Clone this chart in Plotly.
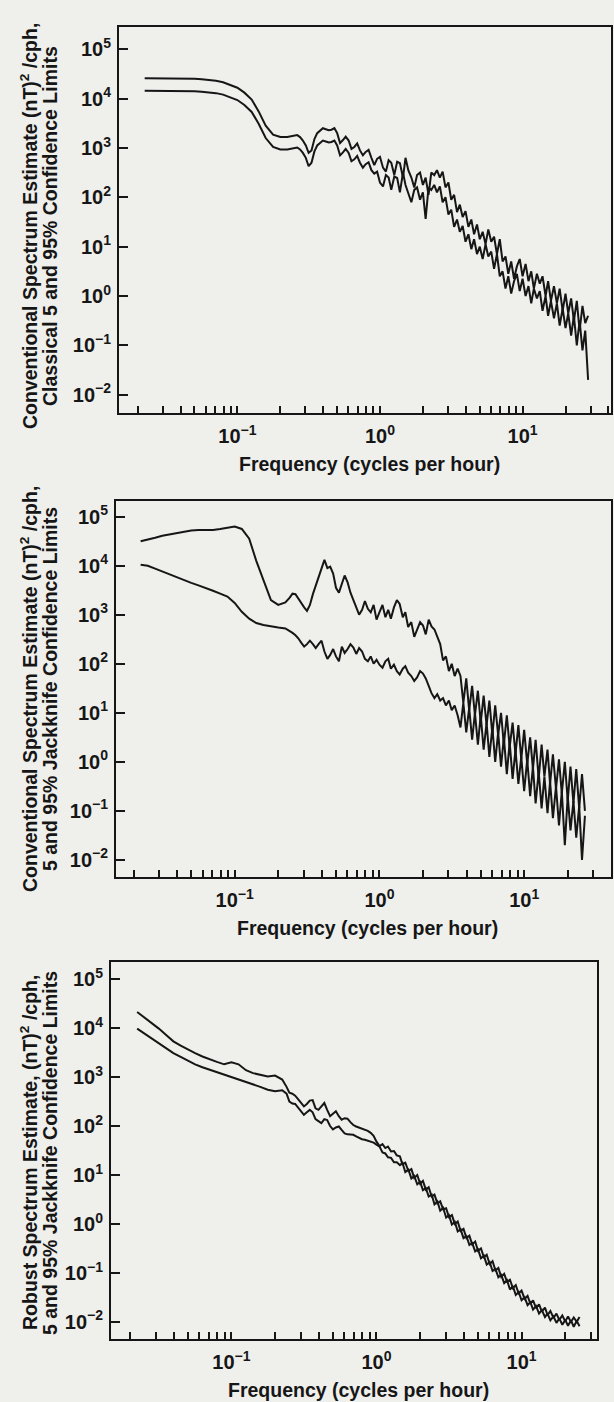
import plotly.graph_objects as go

# ---------------- data (spectra, stored as log10 of (nT)^2/cph) -------------
freq_cph = [
    0.0224, 0.0251, 0.0282, 0.0316, 0.0355, 0.0398, 0.0447, 0.0501, 0.0562, 0.0631,
    0.0708, 0.0794, 0.0891, 0.100, 0.112, 0.126, 0.141, 0.158, 0.178, 0.200,
    0.224, 0.240, 0.251, 0.263, 0.275, 0.288, 0.302, 0.316, 0.331, 0.347,
    0.363, 0.380, 0.398, 0.417, 0.437, 0.457, 0.479, 0.501, 0.525, 0.550,
    0.575, 0.603, 0.631, 0.661, 0.692, 0.724, 0.759, 0.794, 0.832, 0.871,
    0.912, 0.955, 1.00, 1.05, 1.10, 1.15, 1.20, 1.26, 1.32, 1.38,
    1.45, 1.51, 1.58, 1.66, 1.74, 1.82, 1.91, 2.00, 2.09, 2.19,
    2.29, 2.40, 2.51, 2.63, 2.75, 2.88, 3.02, 3.16, 3.31, 3.47,
    3.63, 3.80, 3.98, 4.17, 4.37, 4.57, 4.79, 5.01, 5.25, 5.50,
    5.75, 6.03, 6.31, 6.61, 6.92, 7.24, 7.59, 7.94, 8.32, 8.71,
    9.12, 9.55, 10.0, 10.5, 11.0, 11.5, 12.0, 12.6, 13.2, 13.8,
    14.5, 15.1, 15.8, 16.6, 17.4, 18.2, 19.1, 20.0, 20.9, 21.9,
    22.9, 24.0, 25.1, 26.3, 27.5, 28.8,
]

# Panel 1: conventional spectrum, classical 5% / 95% limits
conv_classical_upper_log10 = [
    4.41, 4.41, 4.41, 4.41, 4.41, 4.41, 4.40, 4.40, 4.39, 4.38,
    4.36, 4.33, 4.28, 4.22, 4.12, 3.98, 3.74, 3.45, 3.27, 3.22,
    3.22, 3.24, 3.26, 3.26, 3.22, 3.15, 3.05, 2.90, 2.95, 3.18,
    3.30, 3.36, 3.40, 3.38, 3.36, 3.37, 3.40, 3.30, 3.10, 3.16,
    3.23, 3.15, 2.98, 3.02, 3.09, 2.95, 2.85, 2.92, 2.96, 2.80,
    2.65, 2.78, 2.82, 2.60, 2.52, 2.75, 2.70, 2.45, 2.72, 2.69,
    2.40, 2.80, 2.55, 2.40, 2.20, 2.45, 2.50, 2.25, 2.40, 2.05,
    2.50, 2.45, 2.55, 2.40, 2.52, 2.20, 2.30, 1.95, 2.05, 1.70,
    1.85, 1.60, 1.72, 1.40, 1.55, 1.25, 1.45, 1.15, 1.30, 1.05,
    1.35, 1.10, 1.20, 0.85, 1.15, 0.70, 0.80, 0.45, 0.70, 0.35,
    0.60, 0.75, 0.40, 0.65, 0.30, 0.50, 0.15, 0.45, 0.25, 0.40,
    0.00, 0.30, -0.10, 0.20, -0.15, 0.15, -0.30, 0.05, -0.35, -0.05,
    -0.50, -0.10, -0.70, -0.20, -0.55, -0.40,
]
conv_classical_lower_log10 = [
    4.16, 4.16, 4.16, 4.16, 4.16, 4.16, 4.15, 4.15, 4.14, 4.13,
    4.11, 4.08, 4.03, 3.97, 3.87, 3.73, 3.49, 3.20, 3.02, 2.97,
    2.97, 2.99, 3.01, 3.01, 2.97, 2.90, 2.80, 2.63, 2.70, 2.93,
    3.05, 3.11, 3.15, 3.13, 3.11, 3.12, 3.15, 3.05, 2.85, 2.91,
    2.98, 2.90, 2.73, 2.77, 2.84, 2.70, 2.60, 2.67, 2.71, 2.55,
    2.48, 2.52, 2.30, 2.22, 2.45, 2.40, 2.15, 2.42, 2.39, 2.10,
    2.50, 2.25, 2.10, 1.90, 2.15, 2.20, 1.95, 2.10, 1.56, 2.20,
    2.15, 2.25, 2.10, 2.22, 1.90, 2.00, 1.65, 1.75, 1.40, 1.55,
    1.30, 1.42, 1.10, 1.25, 0.95, 1.15, 0.85, 1.00, 0.75, 1.05,
    0.80, 0.90, 0.55, 0.85, 0.40, 0.50, 0.15, 0.40, 0.05, 0.30,
    0.45, 0.10, 0.35, 0.00, 0.20, -0.15, 0.15, -0.05, 0.10, -0.30,
    0.00, -0.40, -0.10, -0.45, -0.15, -0.60, -0.25, -0.65, -0.35, -0.80,
    -0.40, -1.00, -0.50, -1.10, -0.70, -1.70,
]

# Panel 2: conventional spectrum, jackknife 5% / 95% limits
conv_jackknife_upper_log10 = [
    4.50, 4.53, 4.57, 4.61, 4.64, 4.66, 4.69, 4.72, 4.73, 4.73,
    4.73, 4.75, 4.78, 4.80, 4.75, 4.55, 4.10, 3.70, 3.30, 3.20,
    3.25, 3.35, 3.43, 3.42, 3.33, 3.25, 3.15, 3.08, 3.20, 3.42,
    3.60, 3.78, 3.92, 4.12, 3.95, 3.98, 3.84, 3.55, 3.45, 3.62,
    3.80, 3.66, 3.45, 3.30, 3.16, 3.00, 3.10, 3.28, 3.12, 3.05,
    3.20, 2.90, 3.05, 3.20, 2.95, 3.10, 2.92, 3.15, 3.30, 3.22,
    2.95, 3.05, 2.75, 2.85, 2.55, 2.70, 2.85, 2.78, 2.60, 2.90,
    2.76, 2.70, 2.55, 2.40, 2.07, 2.15, 1.85, 2.00, 1.75, 1.90,
    1.75, 1.20, 1.70, 1.05, 1.55, 0.95, 1.45, 0.80, 1.35, 0.75,
    1.25, 0.55, 1.15, 0.55, 1.00, 0.35, 0.95, 0.30, 0.80, 0.15,
    0.75, 0.05, 0.65, -0.05, 0.50, -0.15, 0.45, -0.35, 0.35, -0.30,
    0.25, -0.45, 0.15, -0.55, 0.05, -0.65, 0.00, -0.80, -0.10, -0.85,
    -0.15, -0.95, -0.25, -1.00, None, None,
]
conv_jackknife_lower_log10 = [
    4.02, 4.00, 3.94, 3.88, 3.83, 3.77, 3.71, 3.65, 3.60, 3.55,
    3.49, 3.43, 3.37, 3.24, 3.06, 2.92, 2.83, 2.79, 2.76, 2.74,
    2.72, 2.67, 2.63, 2.58, 2.52, 2.43, 2.35, 2.40, 2.47, 2.40,
    2.32, 2.40, 2.47, 2.25, 2.10, 2.18, 2.30, 2.15, 2.05, 2.35,
    2.22, 2.30, 2.40, 2.33, 2.20, 2.32, 2.25, 2.10, 2.05, 2.15,
    2.00, 2.08, 1.98, 1.92, 2.05, 2.10, 1.90, 1.98, 1.85, 1.78,
    1.90, 1.95, 1.82, 1.75, 1.65, 1.72, 1.85, 1.80, 1.70, 1.55,
    1.40, 1.30, 1.38, 1.25, 1.30, 1.15, 1.25, 1.05, 1.15, 0.95,
    0.70, 1.20, 0.60, 1.10, 0.45, 1.00, 0.35, 0.95, 0.25, 0.80,
    0.10, 0.70, 0.00, 0.60, -0.10, 0.50, -0.25, 0.40, -0.35, 0.25,
    -0.45, 0.10, -0.60, 0.05, -0.70, -0.10, -0.85, -0.20, -0.95, -0.30,
    -1.05, -0.40, -1.15, -0.50, -1.30, -0.60, -1.70, -0.70, -1.40, -0.80,
    -1.55, -0.90, -2.00, -1.10, None, None,
]

# Panel 3: robust spectrum, jackknife 5% / 95% limits
robust_jackknife_upper_log10 = [
    4.33, 4.22, 4.10, 3.99, 3.86, 3.73, 3.64, 3.56, 3.49, 3.42,
    3.36, 3.31, 3.26, 3.30, 3.26, 3.14, 3.08, 3.04, 3.01, 3.03,
    2.95, 2.80, 2.68, 2.66, 2.62, 2.55, 2.47, 2.40, 2.45, 2.52,
    2.53, 2.36, 2.33, 2.40, 2.47, 2.33, 2.20, 2.25, 2.30, 2.20,
    2.13, 2.16, 2.15, 2.08, 2.02, 1.99, 1.97, 1.95, 1.93, 1.90,
    1.86, 1.80, 1.68, 1.59, 1.63, 1.55, 1.58, 1.48, 1.49, 1.40,
    1.38, 1.22, 1.25, 1.08, 1.12, 0.94, 1.00, 0.82, 0.88, 0.70,
    0.75, 0.56, 0.60, 0.42, 0.46, 0.30, 0.32, 0.14, 0.18, 0.00,
    0.05, -0.14, -0.10, -0.29, -0.24, -0.42, -0.36, -0.55, -0.50, -0.68,
    -0.63, -0.82, -0.76, -0.95, -0.90, -1.08, -1.02, -1.18, -1.14, -1.31,
    -1.25, -1.42, -1.36, -1.53, -1.47, -1.63, -1.56, -1.72, -1.64, -1.79,
    -1.71, -1.86, -1.78, -1.92, -1.83, -1.96, -1.87, -1.99, -1.89, -2.00,
    -1.91, -2.00, -1.90, None, None, None,
]
robust_jackknife_lower_log10 = [
    3.99, 3.89, 3.79, 3.70, 3.60, 3.49, 3.41, 3.33, 3.26, 3.20,
    3.15, 3.10, 3.05, 3.01, 2.96, 2.91, 2.86, 2.80, 2.74, 2.71,
    2.73, 2.66, 2.50, 2.46, 2.45, 2.38, 2.30, 2.23, 2.28, 2.33,
    2.28, 2.14, 2.10, 2.06, 2.14, 2.12, 2.00, 1.93, 1.97, 1.99,
    1.92, 1.85, 1.83, 1.82, 1.82, 1.79, 1.76, 1.73, 1.72, 1.70,
    1.68, 1.66, 1.62, 1.58, 1.46, 1.44, 1.36, 1.35, 1.26, 1.26,
    1.20, 1.25, 1.06, 1.11, 0.93, 0.98, 0.81, 0.86, 0.69, 0.73,
    0.56, 0.60, 0.40, 0.46, 0.27, 0.33, 0.13, 0.18, -0.01, 0.04,
    -0.15, -0.11, -0.29, -0.25, -0.43, -0.39, -0.56, -0.52, -0.70, -0.65,
    -0.83, -0.78, -0.96, -0.92, -1.09, -1.04, -1.21, -1.15, -1.34, -1.27,
    -1.45, -1.39, -1.56, -1.50, -1.66, -1.60, -1.75, -1.68, -1.83, -1.76,
    -1.90, -1.83, -1.97, -1.89, -2.02, -1.93, -2.06, -1.96, -2.08, -1.97,
    -2.10, -1.98, -2.09, None, None, None,
]

# tick positions / labels
x_major = [0.1, 1, 10]
x_major_labels = ["10<sup>\u22121</sup>", "10<sup>0</sup>", "10<sup>1</sup>"]
x_minor = [0.02, 0.03, 0.04, 0.05, 0.06, 0.07, 0.08, 0.09,
           0.2, 0.3, 0.4, 0.5, 0.6, 0.7, 0.8, 0.9,
           2, 3, 4, 5, 6, 7, 8, 9, 20, 30, 40]
y_major = [1e-2, 1e-1, 1, 10, 100, 1e3, 1e4, 1e5]
y_major_labels = ["10<sup>\u22122</sup>", "10<sup>\u22121</sup>", "10<sup>0</sup>", "10<sup>1</sup>",
                  "10<sup>2</sup>", "10<sup>3</sup>", "10<sup>4</sup>", "10<sup>5</sup>"]

y_titles = [
    ("Conventional Spectrum Estimate (nT)<sup>2</sup> /cph,", "Classical 5 and 95% Confidence Limits"),
    ("Conventional Spectrum Estimate (nT)<sup>2</sup> /cph,", "5 and 95% Jackknife Confidence Limits"),
    ("Robust Spectrum Estimate, (nT)<sup>2</sup> /cph,", "5 and 95% Jackknife Confidence Limits"),
]
x_title = "Frequency (cycles per hour)"

# ---------------- layout geometry (pixels of the 614 x 1402 page) ----------------
W, H = 614, 1402
INK = "#161616"
BG = "#efefec"
FONT = "Liberation Sans, Arial, Helvetica, sans-serif"

# (left, right, top, bottom) frame in px, x log-range, y log-range, y-title centre (px)
frames = [
    ((119, 611, 27, 413), [-1.83, 1.62], [-2.37, 5.45], 226),
    ((116, 611, 501, 877), [-1.82, 1.60], [-2.35, 5.32], 689),
    ((111, 597, 962, 1339), [-1.83, 1.52], [-2.35, 5.35], 1153),
]

series = [
    (conv_classical_upper_log10, conv_classical_lower_log10),
    (conv_jackknife_upper_log10, conv_jackknife_lower_log10),
    (robust_jackknife_upper_log10, robust_jackknife_lower_log10),
]

fig = go.Figure()
layout = dict(
    width=W, height=H, margin=dict(l=0, r=0, t=0, b=0),
    paper_bgcolor=BG, plot_bgcolor=BG, showlegend=False,
    font=dict(family=FONT, color=INK),
)
annotations = []

for k, ((l, r, t, b), xr, yr, ty) in enumerate(frames):
    sfx = "" if k == 0 else str(k + 1)
    xa, ya = "x" + sfx, "y" + sfx
    for arr in series[k]:
        fig.add_trace(go.Scatter(
            x=freq_cph,
            y=[None if v is None else 10 ** v for v in arr],
            mode="lines", line=dict(color=INK, width=2.0),
            xaxis=xa, yaxis=ya, hoverinfo="skip", connectgaps=False,
        ))
    layout["xaxis" + sfx] = dict(
        type="log", domain=[l / W, r / W], range=xr, anchor=ya,
        showline=True, linecolor=INK, linewidth=2, mirror=True,
        showgrid=False, zeroline=False,
        ticks="inside", ticklen=7, tickwidth=1.6, tickcolor=INK,
        tickmode="array", tickvals=x_major, ticktext=x_major_labels,
        tickfont=dict(family=FONT, size=20, color=INK, weight="bold"),
        ticklabelstandoff=4,
        minor=dict(tickmode="array", tickvals=x_minor, ticks="inside", ticklen=7,
                   tickwidth=1.6, tickcolor=INK, showgrid=False),
    )
    layout["yaxis" + sfx] = dict(
        type="log", domain=[1 - b / H, 1 - t / H], range=yr, anchor=xa,
        showline=True, linecolor=INK, linewidth=2, mirror=True,
        showgrid=False, zeroline=False,
        ticks="inside", ticklen=9, tickwidth=1.8, tickcolor=INK,
        tickmode="array", tickvals=y_major, ticktext=y_major_labels,
        tickfont=dict(family=FONT, size=20, color=INK, weight="bold"),
        ticklabelstandoff=2,
    )
    cy = 1 - ty / H
    line1, line2 = y_titles[k]
    annotations.append(dict(
        text=line1, xref="paper", yref="paper", x=29 / W, y=cy,
        xanchor="center", yanchor="middle", textangle=-90, showarrow=False,
        font=dict(family=FONT, size=19.5, color=INK, weight="bold"),
    ))
    annotations.append(dict(
        text=line2, xref="paper", yref="paper", x=50 / W, y=cy,
        xanchor="center", yanchor="middle", textangle=-90, showarrow=False,
        font=dict(family=FONT, size=19.5, color=INK, weight="bold"),
    ))
    annotations.append(dict(
        text=x_title, xref="paper", yref="paper", x=((l + r) / 2 + 4) / W, y=1 - (b + 51) / H,
        xanchor="center", yanchor="middle", showarrow=False,
        font=dict(family=FONT, size=19.5, color=INK, weight="bold"),
    ))

layout["annotations"] = annotations
fig.update_layout(**layout)
fig.write_html("out.html")
